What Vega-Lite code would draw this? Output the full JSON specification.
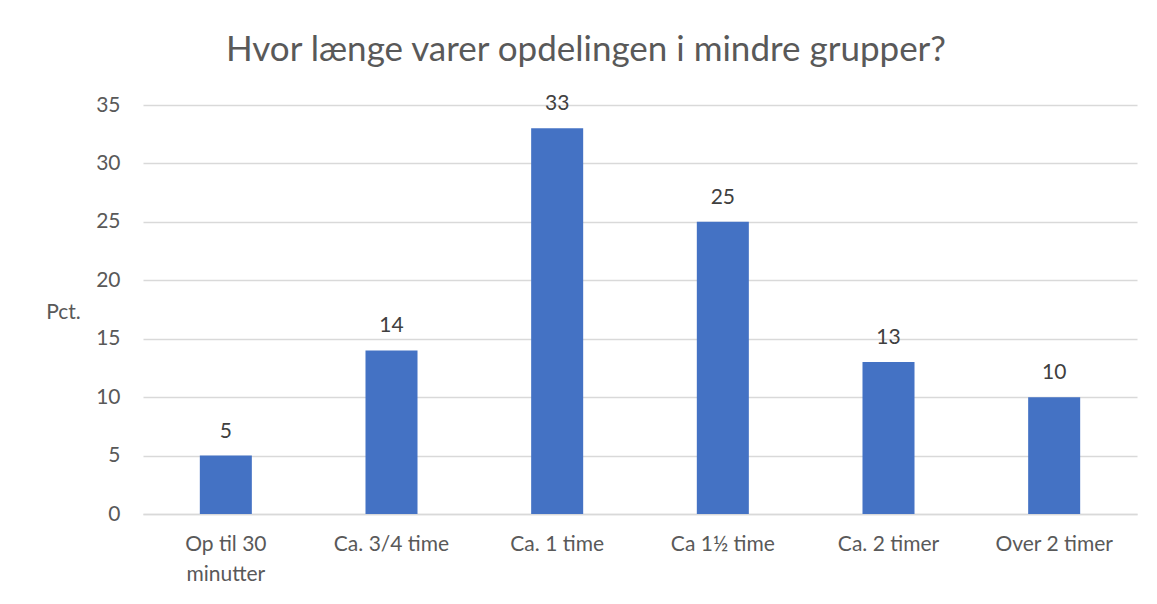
{
  "$schema": "https://vega.github.io/schema/vega-lite/v6.json",
  "width": 994,
  "height": 409,
  "autosize": {"type": "none"},
  "padding": {"left": 143, "top": 105, "right": 20, "bottom": 90},
  "background": "white",
  "title": {
    "text": "Hvor længe varer opdelingen i mindre grupper?",
    "font": "Lato",
    "fontSize": 35,
    "fontWeight": "normal",
    "color": "#595959",
    "anchor": "middle",
    "dx": -54,
    "baseline": "alphabetic",
    "offset": -3
  },
  "config": {
    "view": {"stroke": null},
    "font": "Lato",
    "axis": {
      "labelFont": "Lato",
      "labelFontSize": 21,
      "labelColor": "#595959",
      "titleFont": "Lato",
      "titleColor": "#595959",
      "titleFontWeight": "normal",
      "titleFontSize": 21,
      "gridColor": "#d9d9d9",
      "gridWidth": 1.3,
      "domainColor": "#d9d9d9",
      "ticks": false
    }
  },
  "data": {
    "values": [
      {"kategori": "Op til 30 minutter", "pct": 5},
      {"kategori": "Ca. 3/4 time", "pct": 14},
      {"kategori": "Ca. 1 time", "pct": 33},
      {"kategori": "Ca 1½ time", "pct": 25},
      {"kategori": "Ca. 2 timer", "pct": 13},
      {"kategori": "Over 2 timer", "pct": 10}
    ]
  },
  "encoding": {
    "x": {
      "field": "kategori",
      "type": "nominal",
      "sort": null,
      "scale": {"paddingInner": 0.686, "paddingOuter": 0.343},
      "axis": {
        "title": null,
        "labelAngle": 0,
        "labelPadding": 19,
        "labelLimit": 0,
        "labelLineHeight": 30,
        "domainWidth": 1.3,
        "labelExpr": "datum.value == 'Op til 30 minutter' ? ['Op til 30', 'minutter'] : datum.value"
      }
    },
    "y": {
      "field": "pct",
      "type": "quantitative",
      "scale": {"domain": [0, 35], "nice": false},
      "axis": {
        "title": "Pct.",
        "values": [0, 5, 10, 15, 20, 25, 30, 35],
        "domain": false,
        "labelPadding": 23,
        "titleAngle": 0,
        "titleX": -80,
        "titleY": 207,
        "titleAlign": "center",
        "titleBaseline": "middle"
      }
    }
  },
  "layer": [
    {"mark": {"type": "bar", "color": "#4472C4"}},
    {
      "mark": {"type": "text", "baseline": "alphabetic", "dy": -18, "fontSize": 21, "color": "#404040", "font": "Lato"},
      "encoding": {"text": {"field": "pct", "type": "quantitative"}}
    }
  ]
}
